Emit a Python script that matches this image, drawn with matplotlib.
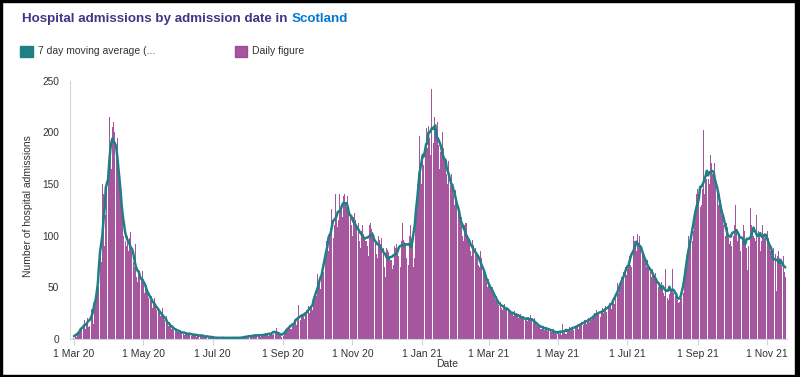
import matplotlib
matplotlib.use("Agg")
import matplotlib.pyplot as plt
from matplotlib.patches import Rectangle
import numpy as np
import pandas as pd

plt.rcParams['font.family'] = ['Liberation Sans', 'DejaVu Sans']

# daily hospital admissions, one list per month
mar20 = [1, 3, 2, 5, 6, 9, 8, 11, 12, 18, 10, 14, 20, 12, 13, 29, 27, 15, 30, 40,
         40, 60, 50, 80, 75, 150, 140, 90, 120, 150, 160]
apr20 = [215, 180, 165, 205, 210, 200, 185, 195, 165, 150, 140, 130, 125, 100, 95,
         90, 100, 85, 98, 104, 88, 75, 70, 92, 60, 55, 65, 62, 58, 66]
may20 = [58, 45, 50, 52, 48, 40, 38, 42, 30, 35, 40, 33, 28, 30, 26, 22, 24, 30,
         20, 18, 22, 15, 13, 16, 12, 10, 14, 9, 11, 8, 7]
jun20 = [8, 6, 9, 7, 5, 4, 6, 7, 5, 6, 4, 3, 5, 6, 4, 3, 2, 4, 5, 3, 4, 2, 3, 4,
         2, 3, 1, 2, 3, 2]
jul20 = [2, 1, 2, 1, 0, 1, 2, 1, 2, 1, 1, 0, 2, 1, 1, 2, 1, 0, 1, 2, 1, 1, 2, 1,
         0, 1, 2, 2, 1, 3, 2]
aug20 = [2, 3, 2, 4, 3, 2, 4, 3, 5, 4, 3, 2, 4, 5, 3, 4, 6, 4, 3, 5, 6, 7, 4, 5,
         8, 11, 7, 5, 4, 3, 2]
sep20 = [3, 5, 8, 10, 9, 12, 14, 10, 13, 15, 18, 16, 14, 20, 33, 18, 22, 24, 21,
         19, 26, 28, 32, 25, 30, 33, 28, 35, 38, 42]
oct20 = [63, 52, 58, 48, 60, 72, 65, 80, 95, 96, 85, 100, 105, 126, 98, 110, 140,
         120, 108, 115, 140, 125, 118, 138, 140, 132, 128, 138, 125, 120, 110]
nov20 = [100, 118, 122, 115, 108, 112, 95, 88, 105, 110, 102, 98, 95, 90, 80, 110,
         112, 106, 104, 100, 94, 82, 78, 100, 96, 92, 98, 88, 70, 60]
dec20 = [88, 86, 84, 80, 76, 68, 72, 90, 88, 92, 85, 80, 70, 95, 112, 96, 94, 90,
         78, 72, 100, 110, 98, 96, 70, 78, 125, 150, 160, 196, 165]
jan21 = [150, 175, 168, 190, 204, 185, 206, 195, 178, 242, 190, 215, 205, 198, 210,
         188, 165, 181, 200, 185, 175, 170, 160, 150, 172, 149, 160, 150, 140, 130, 144]
feb21 = [135, 128, 125, 113, 118, 100, 95, 110, 112, 101, 98, 92, 85, 80, 96, 91,
         88, 84, 80, 72, 70, 85, 78, 65, 66, 62, 55, 50]
mar21 = [58, 52, 48, 50, 45, 40, 38, 42, 35, 33, 36, 30, 28, 32, 34, 31, 30, 27,
         25, 28, 26, 24, 22, 27, 25, 23, 20, 22, 24, 21, 19]
apr21 = [22, 18, 20, 17, 21, 19, 23, 18, 16, 20, 17, 14, 13, 15, 12, 10, 11, 13,
         9, 12, 10, 8, 11, 9, 7, 8, 10, 6, 7, 5]
may21 = [6, 5, 7, 4, 15, 6, 8, 5, 7, 9, 12, 8, 10, 11, 9, 13, 12, 14, 10, 15, 13,
         16, 14, 18, 17, 15, 19, 20, 16, 18, 22]
jun21 = [20, 25, 22, 28, 24, 26, 21, 27, 30, 25, 28, 32, 26, 30, 35, 33, 29, 38,
         40, 34, 42, 54, 45, 48, 50, 60, 55, 65, 70, 62]
jul21 = [68, 75, 80, 72, 70, 100, 95, 88, 85, 102, 90, 100, 88, 85, 80, 78, 74, 70,
         76, 72, 65, 60, 68, 62, 58, 64, 55, 50, 52, 48, 55]
aug21 = [48, 45, 42, 68, 40, 38, 44, 50, 46, 68, 45, 42, 40, 38, 35, 36, 42, 40,
         45, 55, 70, 68, 80, 100, 95, 100, 95, 105, 115, 125, 140]
sep21 = [145, 140, 128, 130, 145, 202, 140, 160, 155, 155, 150, 178, 170, 160, 158,
         170, 150, 145, 130, 140, 135, 120, 125, 110, 100, 112, 108, 98, 92, 95]
oct21 = [90, 100, 110, 130, 105, 95, 100, 98, 85, 95, 110, 105, 92, 88, 67, 90, 127,
         110, 105, 100, 98, 95, 120, 105, 100, 85, 95, 110, 102, 98, 100]
nov21 = [105, 98, 92, 85, 80, 78, 88, 82, 46, 80, 85, 78, 75, 72, 80, 65, 60]

tick_dates = ['2020-03-01', '2020-05-01', '2020-07-01', '2020-09-01', '2020-11-01',
              '2021-01-01', '2021-03-01', '2021-05-01', '2021-07-01', '2021-09-01',
              '2021-11-01']
tick_labels = ['1 Mar 20', '1 May 20', '1 Jul 20', '1 Sep 20', '1 Nov 20', '1 Jan 21',
               '1 Mar 21', '1 May 21', '1 Jul 21', '1 Sep 21', '1 Nov 21']
y_ticks = [0, 50, 100, 150, 200, 250]

daily = np.concatenate([mar20, apr20, may20, jun20, jul20, aug20, sep20, oct20, nov20,
                        dec20, jan21, feb21, mar21, apr21, may21, jun21, jul21, aug21,
                        sep21, oct21, nov21])
dates = pd.date_range('2020-03-01', periods=len(daily), freq='D')
ma = pd.Series(daily).rolling(7, center=True, min_periods=1).mean()

teal = '#1E7F84'
magenta = '#9B4393'
txt = '#333333'

fig = plt.figure(figsize=(8, 3.77), dpi=100)
ax = fig.add_axes([70 / 800, 38 / 377, 717 / 800, 258.3 / 377])

ax.bar(dates, daily, width=0.9, color=magenta, alpha=0.9, linewidth=0)
ax.plot(dates, ma, color=teal, lw=1.8, solid_capstyle='round')

ax.set_xlim(dates[0] - pd.Timedelta(days=3.5), dates[0] + pd.Timedelta(days=627.5))
ax.set_ylim(0, 250)
ax.set_xticks(pd.to_datetime(tick_dates))
ax.set_xticklabels(tick_labels)
ax.set_yticks(y_ticks)

for s in ['top', 'right']:
    ax.spines[s].set_visible(False)
ax.spines['left'].set_color('#d8d8d8')
ax.spines['bottom'].set_color('#ccd6eb')
ax.tick_params(axis='y', length=0, pad=8, labelsize=7.3, labelcolor=txt)
ax.tick_params(axis='x', length=4, color='#ccd6eb', pad=3, labelsize=7.5, labelcolor=txt)

fig.text(28 / 800, 1 - 206 / 377, 'Number of hospital admissions', rotation=90,
         ha='center', va='center', fontsize=7.5, color=txt)
fig.text(447 / 800, 1 - 364 / 377, 'Date', ha='center', va='center', fontsize=7.5, color=txt)

# title in two colours
t1 = fig.text(22 / 800, 1 - 19 / 377, 'Hospital admissions by admission date in',
              fontsize=9.6, weight='bold', color='#3F3685', va='center')
fig.canvas.draw()
bb = t1.get_window_extent(fig.canvas.get_renderer())
fig.text((bb.x1 + 4) / 800, 1 - 19 / 377, 'Scotland', fontsize=9.6, weight='bold',
         color='#0078D4', va='center')

# legend
fig.patches.append(Rectangle((20 / 800, 1 - 57 / 377), 13 / 800, 11 / 377,
                             transform=fig.transFigure, color=teal))
fig.text(38 / 800, 1 - 51.5 / 377, '7 day moving average (...', fontsize=7.5,
         color=txt, va='center')
fig.patches.append(Rectangle((235 / 800, 1 - 57 / 377), 12 / 800, 11 / 377,
                             transform=fig.transFigure, color=magenta, alpha=0.9))
fig.text(252 / 800, 1 - 51.5 / 377, 'Daily figure', fontsize=7.5, color=txt, va='center')

# black frame round the picture
for r in [(0, 0, 1, 2 / 377), (0, 1 - 2 / 377, 1, 2 / 377), (0, 0, 2 / 800, 1),
          (1 - 5 / 800, 0, 5 / 800, 1)]:
    fig.patches.append(Rectangle(r[:2], r[2], r[3], transform=fig.transFigure,
                                 color='black', zorder=10))

fig.savefig('out.png', dpi=100)
